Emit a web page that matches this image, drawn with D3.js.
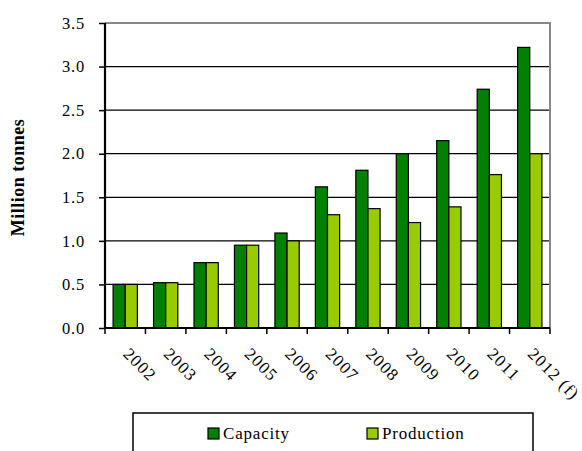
<!DOCTYPE html>
<html>
<head>
<meta charset="utf-8">
<script src="https://cdn.jsdelivr.net/npm/d3@7"></script>
<style>
  html, body { margin: 0; padding: 0; background: #fff; }
  svg { display: block; }
  svg text { font-family: "Liberation Serif", "DejaVu Serif", serif !important; fill: #000; }
</style>
</head>
<body>
<svg id="chart" width="582" height="451"></svg>
<script>
// Capacity vs production, million tonnes per year
const years = ["2002", "2003", "2004", "2005", "2006", "2007", "2008", "2009", "2010", "2011", "2012 (f)"];
const capacity = [0.50, 0.52, 0.75, 0.95, 1.09, 1.62, 1.81, 2.00, 2.15, 2.74, 3.22];
const production = [0.50, 0.52, 0.75, 0.95, 1.00, 1.30, 1.37, 1.21, 1.39, 1.76, 2.00];
const seriesNames = ["Capacity", "Production"];
const seriesColors = ["#008000", "#99CC00"];
const yTicks = [0, 0.5, 1.0, 1.5, 2.0, 2.5, 3.0, 3.5];

const serif = "'Liberation Serif', 'DejaVu Serif', serif";
const svg = d3.select("#chart");
const plot = { left: 105, right: 550, top: 23, bottom: 328 };

const x = d3.scaleBand().domain(years).range([plot.left, plot.right])
  .paddingInner(0.4).paddingOuter(0.2);
const xSub = d3.scaleBand().domain(seriesNames).range([0, x.bandwidth()]);
const y = d3.scaleLinear().domain([0, 3.5]).range([plot.bottom, plot.top]);
const color = d3.scaleOrdinal().domain(seriesNames).range(seriesColors);

// horizontal gridlines
svg.append("g").selectAll("line")
  .data(yTicks.filter(t => t > 0 && t < 3.5))
  .join("line")
  .attr("x1", plot.left).attr("x2", plot.right)
  .attr("y1", d => y(d)).attr("y2", d => y(d))
  .attr("stroke", "#000").attr("stroke-width", 1.3);

// plot area frame (top and right)
svg.append("path")
  .attr("d", `M${plot.left},${y(3.5)}H${plot.right}V${plot.bottom}`)
  .attr("fill", "none").attr("stroke", "#888").attr("stroke-width", 2);

// bars
const rows = years.map((yr, i) => ({ year: yr, values: [capacity[i], production[i]] }));
svg.append("g").selectAll("g")
  .data(rows)
  .join("g")
  .attr("transform", d => `translate(${x(d.year)},0)`)
  .selectAll("rect")
  .data(d => d.values.map((v, j) => ({ key: seriesNames[j], value: v })))
  .join("rect")
  .attr("x", d => xSub(d.key))
  .attr("width", xSub.bandwidth())
  .attr("y", d => y(d.value))
  .attr("height", d => y(0) - y(d.value))
  .attr("fill", d => color(d.key))
  .attr("stroke", "#000").attr("stroke-width", 1.2);

// y axis
const yAxis = d3.axisLeft(y).tickValues(yTicks).tickFormat(d3.format(".1f"))
  .tickSize(6).tickPadding(14);
const yg = svg.append("g").attr("transform", `translate(${plot.left},0)`).call(yAxis)
  .attr("font-family", null).attr("font-size", null);
yg.select(".domain").attr("stroke", "#000").attr("stroke-width", 2.2)
  .attr("d", `M0,${plot.top}V${plot.bottom}`);
yg.selectAll(".tick line").attr("stroke", "#000").attr("stroke-width", 1.5);
yg.selectAll(".tick text")
  .style("font-family", serif)
  .style("font-size", "16.5px").style("letter-spacing", "0.8px");

// x axis with ticks at category boundaries
const step = x.step();
const boundaries = d3.range(years.length + 1).map(i => plot.left + i * step);
svg.append("line")
  .attr("x1", plot.left).attr("x2", plot.right)
  .attr("y1", plot.bottom).attr("y2", plot.bottom)
  .attr("stroke", "#000").attr("stroke-width", 2.2);
svg.append("g").selectAll("line")
  .data(boundaries)
  .join("line")
  .attr("x1", d => d).attr("x2", d => d)
  .attr("y1", plot.bottom).attr("y2", plot.bottom + 6)
  .attr("stroke", "#000").attr("stroke-width", 1.5);

// rotated year labels
svg.append("g").selectAll("text")
  .data(years)
  .join("text")
  .attr("transform", d => `translate(${x(d) + x.bandwidth() / 2 - 3},${plot.bottom + 27}) rotate(45)`)
  .attr("text-anchor", "start")
  .style("font-family", serif)
  .style("font-size", "17px")
  .style("letter-spacing", "1.2px")
  .text(d => d);

// y axis title
svg.append("text")
  .attr("transform", `translate(24,${(plot.top + plot.bottom) / 2 + 2}) rotate(-90)`)
  .attr("text-anchor", "middle")
  .style("font-family", serif)
  .style("font-weight", "bold")
  .style("font-size", "18px")
  .style("letter-spacing", "0.5px")
  .text("Million tonnes");

// legend
const legend = svg.append("g");
legend.append("rect")
  .attr("x", 133).attr("y", 413).attr("width", 400).attr("height", 60)
  .attr("fill", "#fff").attr("stroke", "#000").attr("stroke-width", 1.5);
const legendX = [208, 367];
const items = legend.selectAll("g.item")
  .data(seriesNames)
  .join("g").attr("class", "item")
  .attr("transform", (d, i) => `translate(${legendX[i]},428)`);
items.append("rect")
  .attr("width", 11).attr("height", 11)
  .attr("fill", d => color(d))
  .attr("stroke", "#000").attr("stroke-width", 1.2);
items.append("text")
  .attr("x", 15).attr("y", 11)
  .style("font-family", serif)
  .style("font-size", "17px")
  .style("letter-spacing", "0.8px")
  .text(d => d);
</script>
</body>
</html>
